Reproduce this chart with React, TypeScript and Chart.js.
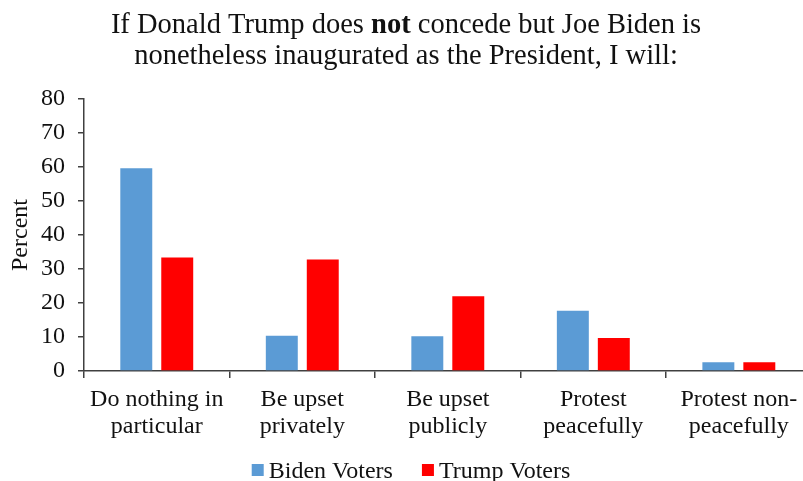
import React, { useEffect, useRef } from "react";
import { Chart, registerables } from "chart.js";

Chart.register(...registerables);

const categories: string[][] = [
  ["Do nothing in", "particular"],
  ["Be upset", "privately"],
  ["Be upset", "publicly"],
  ["Protest", "peacefully"],
  ["Protest non-", "peacefully"],
];
const bidenVoters = [59.6, 10.4, 10.2, 17.7, 2.6];
const trumpVoters = [33.4, 32.8, 22.0, 9.7, 2.6];
const seriesNames = ["Biden Voters", "Trump Voters"];
const seriesColors = ["#5B9BD5", "#FF0000"];
const titleLine1 = ["If Donald Trump does ", "not", " concede but Joe Biden is"];
const titleLine2 = "nonetheless inaugurated as the President, I will:";
const yAxisTitle = "Percent";

const FONT = '"Liberation Serif", "Times New Roman", serif';
const TEXT = "#111111";
const AXIS = "#404040";

const titlePlugin = {
  id: "mixedTitle",
  afterDraw(chart: any) {
    const ctx = chart.ctx as CanvasRenderingContext2D;
    const size = 28.5;
    const normal = `${size}px ${FONT}`;
    const bold = `bold ${size}px ${FONT}`;
    const cx = 406;
    ctx.save();
    ctx.fillStyle = TEXT;
    ctx.textBaseline = "alphabetic";
    ctx.textAlign = "left";
    const parts = titleLine1.map((t, i) => ({ t, f: i === 1 ? bold : normal }));
    let total = 0;
    const widths = parts.map((p) => {
      ctx.font = p.f;
      const w = ctx.measureText(p.t).width;
      total += w;
      return w;
    });
    let x = cx - total / 2;
    parts.forEach((p, i) => {
      ctx.font = p.f;
      ctx.fillText(p.t, x, 33);
      x += widths[i];
    });
    ctx.font = normal;
    ctx.textAlign = "center";
    ctx.fillText(titleLine2, cx, 64);
    ctx.restore();
  },
};

const legendPlugin = {
  id: "customLegend",
  afterDraw(chart: any) {
    const ctx = chart.ctx as CanvasRenderingContext2D;
    const font = `24px ${FONT}`;
    const box = 12;
    const gap = 5;
    const itemGap = 29;
    ctx.save();
    ctx.font = font;
    const items = chart.data.datasets.map((d: any) => ({
      label: d.label,
      color: d.backgroundColor,
      w: ctx.measureText(d.label).width,
    }));
    let total = 0;
    items.forEach((it: any, i: number) => {
      total += box + gap + it.w + (i < items.length - 1 ? itemGap : 0);
    });
    let x = 411 - total / 2;
    const baseline = 478;
    items.forEach((it: any) => {
      ctx.fillStyle = it.color;
      ctx.fillRect(x, 464, box, box);
      x += box + gap;
      ctx.fillStyle = TEXT;
      ctx.textBaseline = "alphabetic";
      ctx.textAlign = "left";
      ctx.fillText(it.label, x, baseline);
      x += it.w + itemGap;
    });
    ctx.restore();
  },
};

export default function App() {
  const ref = useRef<HTMLCanvasElement | null>(null);
  useEffect(() => {
    if (!ref.current) return;
    const chart = new Chart(ref.current, {
      type: "bar",
      data: {
        labels: categories,
        datasets: [
          {
            label: seriesNames[0],
            data: bidenVoters,
            backgroundColor: seriesColors[0],
            barPercentage: 0.78,
            categoryPercentage: 0.563,
          },
          {
            label: seriesNames[1],
            data: trumpVoters,
            backgroundColor: seriesColors[1],
            barPercentage: 0.78,
            categoryPercentage: 0.563,
          },
        ],
      },
      options: {
        animation: false,
        responsive: false,
        maintainAspectRatio: false,
        devicePixelRatio: 1,
        layout: { padding: { top: 99, left: 0, right: 3.4, bottom: 0 } },
        plugins: {
          legend: { display: false },
          title: { display: false },
          tooltip: { enabled: false },
        },
        scales: {
          x: {
            afterFit: (s: any) => {
              s.height = 110;
            },
            grid: {
              offset: true,
              drawOnChartArea: false,
              drawTicks: true,
              tickLength: 7,
              color: AXIS,
              lineWidth: 1.5,
            },
            border: { display: true, color: AXIS, width: 1.5 },
            ticks: {
              color: TEXT,
              padding: 9,
              maxRotation: 0,
              autoSkip: false,
              font: { family: FONT, size: 24, lineHeight: 1.1 },
            },
          },
          y: {
            min: 0,
            max: 80,
            afterFit: (s: any) => {
              s.width = 84;
            },
            grid: {
              drawOnChartArea: false,
              drawTicks: true,
              tickLength: 6,
              color: AXIS,
              lineWidth: 1.5,
            },
            border: { display: true, color: AXIS, width: 1.5 },
            ticks: {
              stepSize: 10,
              color: TEXT,
              padding: 13,
              font: { family: FONT, size: 24 },
            },
            title: {
              display: true,
              text: yAxisTitle,
              color: TEXT,
              padding: { top: 6, bottom: 0 },
              font: { family: FONT, size: 24 },
            },
          },
        },
      },
      plugins: [titlePlugin, legendPlugin],
    });
    return () => chart.destroy();
  }, []);
  return (
    <div
      style={{
        position: "fixed",
        left: 0,
        top: 0,
        width: 803,
        height: 481,
        overflow: "hidden",
        background: "#ffffff",
      }}
    >
      <canvas ref={ref} width={815} height={481} style={{ display: "block", width: 815, height: 481 }} />
    </div>
  );
}
